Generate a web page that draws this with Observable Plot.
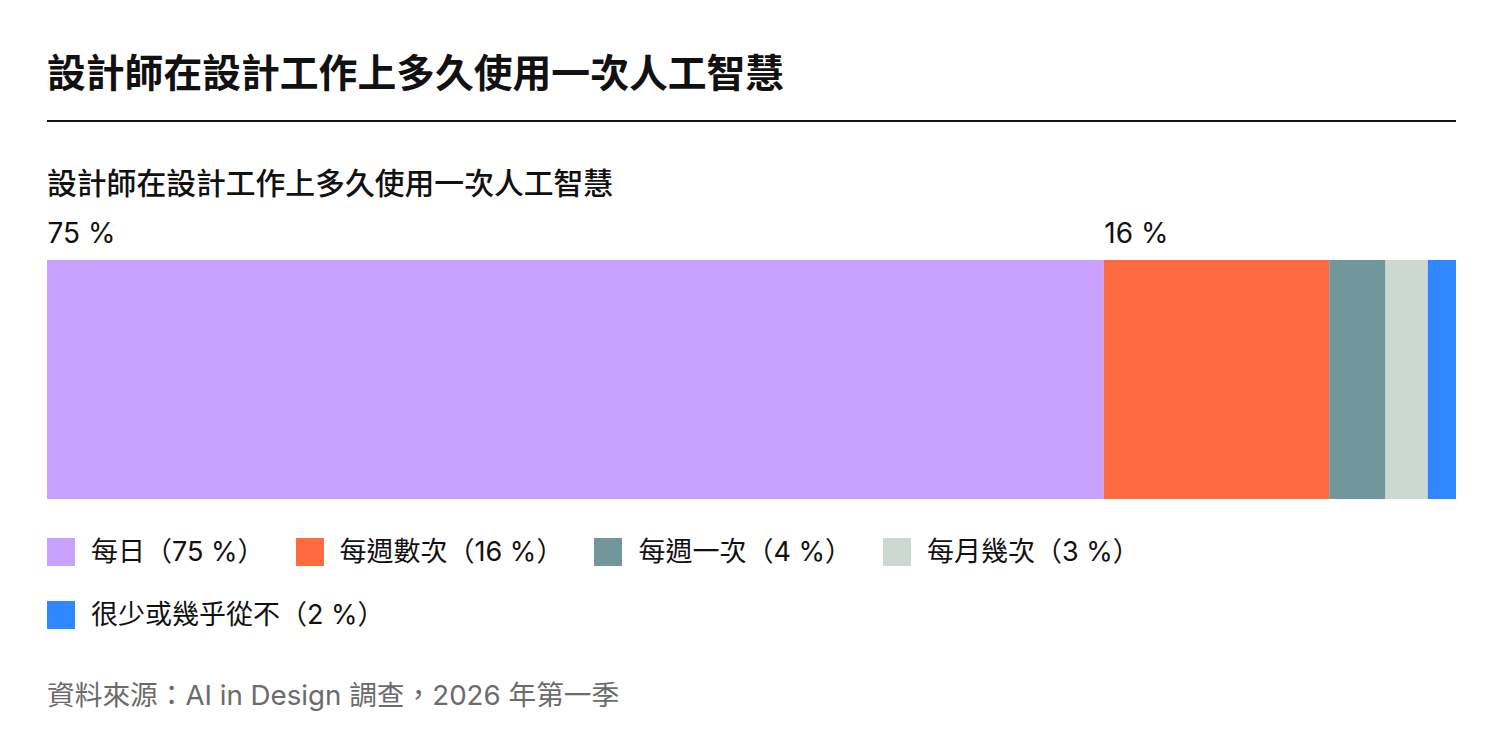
<!DOCTYPE html>
<html>
<head>
<meta charset="utf-8">
<script src="https://cdn.jsdelivr.net/npm/d3@7"></script>
<script src="https://cdn.jsdelivr.net/npm/@observablehq/plot@0.6"></script>
<style>
  html, body { margin: 0; padding: 0; background: #fff; }
  body { width: 1508px; height: 754px; position: relative; overflow: hidden;
         font-family: Inter, "Noto Sans CJK TC", "Noto Sans", sans-serif; color: #111; }
  .abs { position: absolute; left: 47px; white-space: nowrap; }
  #title { top: 53px; font-size: 38.8px; line-height: 39px; font-weight: 700; }
  #rule { top: 120px; width: 1409px; height: 2px; background: #111; }
  #subtitle { top: 168px; font-size: 29.8px; line-height: 30px; font-weight: 500; }
  #chart { position: absolute; left: 0; top: 200px; }
  #legend { top: 536px; width: 1200px; display: flex; flex-wrap: wrap; column-gap: 31px; row-gap: 31px; }
  .item { display: flex; align-items: center; font-size: 27px; line-height: 32px; }
  .sw { width: 28px; height: 28px; margin-right: 16px; flex: none; }
  #source { top: 680px; font-size: 27.7px; line-height: 30px; color: #6b6b6b; }
</style>
</head>
<body>
<div id="title" class="abs">設計師在設計工作上多久使用一次人工智慧</div>
<div id="rule" class="abs"></div>
<div id="subtitle" class="abs">設計師在設計工作上多久使用一次人工智慧</div>
<div id="chart"></div>
<div id="legend" class="abs"></div>
<div id="source" class="abs">資料來源：AI in Design 調查，2026 年第一季</div>
<script>
const categories = ["每日", "每週數次", "每週一次", "每月幾次", "很少或幾乎從不"];
const values = [75, 16, 4, 3, 2];
const colors = ["#c8a0fe", "#ff6a3f", "#71969c", "#ccd9d0", "#2f88ff"];
const labeledCategories = ["每日", "每週數次"];

const data = categories.map((c, i) => ({category: c, value: values[i], row: "all"}));
let acc = 0;
data.forEach(d => { d.start = acc; acc += d.value; d.end = acc; });
const labels = data.filter(d => labeledCategories.includes(d.category));

const chart = Plot.plot({
  width: 1508,
  height: 310,
  marginLeft: 47,
  marginRight: 52,
  marginTop: 60,
  marginBottom: 11,
  x: {domain: [0, 100], axis: null},
  y: {axis: null, padding: 0},
  color: {domain: categories, range: colors},
  style: {fontFamily: 'Inter, "Noto Sans CJK TC", sans-serif', background: "transparent"},
  marks: [
    Plot.barX(data, {x1: "start", x2: "end", y: "row", fill: "category"}),
    Plot.text(labels, {x: "start", frameAnchor: "top", text: d => `${d.value} %`,
      textAnchor: "start", lineAnchor: "middle", dy: -26, fontSize: 28, fill: "#111"})
  ]
});
document.getElementById("chart").appendChild(chart);

const legend = document.getElementById("legend");
categories.forEach((c, i) => {
  const item = document.createElement("div");
  item.className = "item";
  const sw = document.createElement("span");
  sw.className = "sw";
  sw.style.background = colors[i];
  const t = document.createElement("span");
  t.textContent = `${c}（${values[i]} %）`;
  item.appendChild(sw);
  item.appendChild(t);
  legend.appendChild(item);
});
</script>
</body>
</html>
